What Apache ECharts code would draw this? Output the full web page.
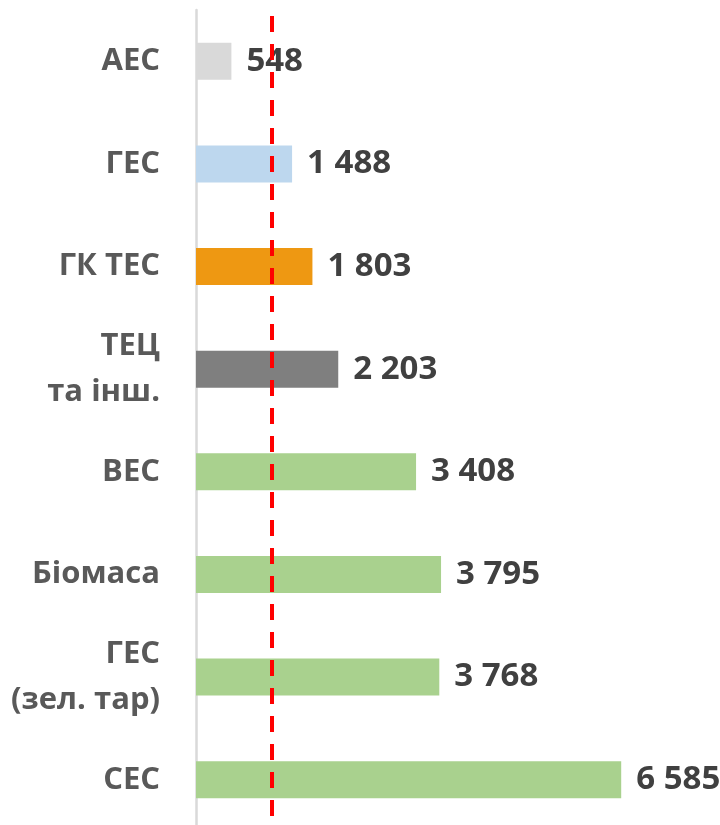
<!DOCTYPE html>
<html>
<head>
<meta charset="utf-8">
<script src="https://cdn.jsdelivr.net/npm/echarts@6/dist/echarts.min.js"></script>
<style>
  html, body { margin: 0; padding: 0; background: #fff; }
  #chart { width: 720px; height: 825px; }
</style>
</head>
<body>
<div id="chart"></div>
<script>
const categories = ['АЕС', 'ГЕС', 'ГК ТЕС', 'ТЕЦ\nта інш.', 'ВЕС', 'Біомаса', 'ГЕС\n(зел. тар)', 'СЕС']
const values = [548, 1488, 1803, 2203, 3408, 3795, 3768, 6585]
const referenceValue = 1170

const barColors = ['#d9d9d9', '#bdd7ee', '#ee9812', '#7f7f7f', '#a9d18e', '#a9d18e', '#a9d18e', '#a9d18e']
const fontFamily = '"Open Sans", "Noto Sans", sans-serif'

const chart = echarts.init(document.getElementById('chart'), null, { renderer: 'canvas' })

function formatNumber(v) {
  return String(v).replace(/\B(?=(\d{3})+(?!\d))/g, ' ')
}

chart.setOption({
  animation: false,
  grid: {
    left: 196,
    top: 10,
    width: 452,
    height: 821,
    outerBoundsMode: 'none'
  },
  xAxis: {
    type: 'value',
    min: 0,
    max: 7000,
    show: false
  },
  yAxis: {
    type: 'category',
    inverse: true,
    data: categories,
    axisLine: {
      show: true,
      lineStyle: { color: '#d9d9d9', width: 2.5 }
    },
    axisTick: { show: false },
    axisLabel: {
      margin: 36,
      fontSize: 31,
      fontWeight: 'bold',
      fontFamily: fontFamily,
      color: '#595959',
      lineHeight: 46
    }
  },
  series: [
    {
      type: 'bar',
      data: values.map((v, i) => ({ value: v, itemStyle: { color: barColors[i] } })),
      barCategoryGap: '64%',
      label: {
        show: true,
        position: 'right',
        distance: 15,
        fontSize: 33,
        fontWeight: 'bold',
        fontFamily: fontFamily,
        color: '#404040',
        formatter: (p) => formatNumber(p.value)
      },
      markLine: {
        silent: true,
        symbol: 'none',
        label: { show: false },
        lineStyle: {
          color: '#ff0000',
          width: 4,
          type: [16, 12],
          dashOffset: 22
        },
        data: [{ xAxis: referenceValue }]
      }
    }
  ]
})
</script>
</body>
</html>
